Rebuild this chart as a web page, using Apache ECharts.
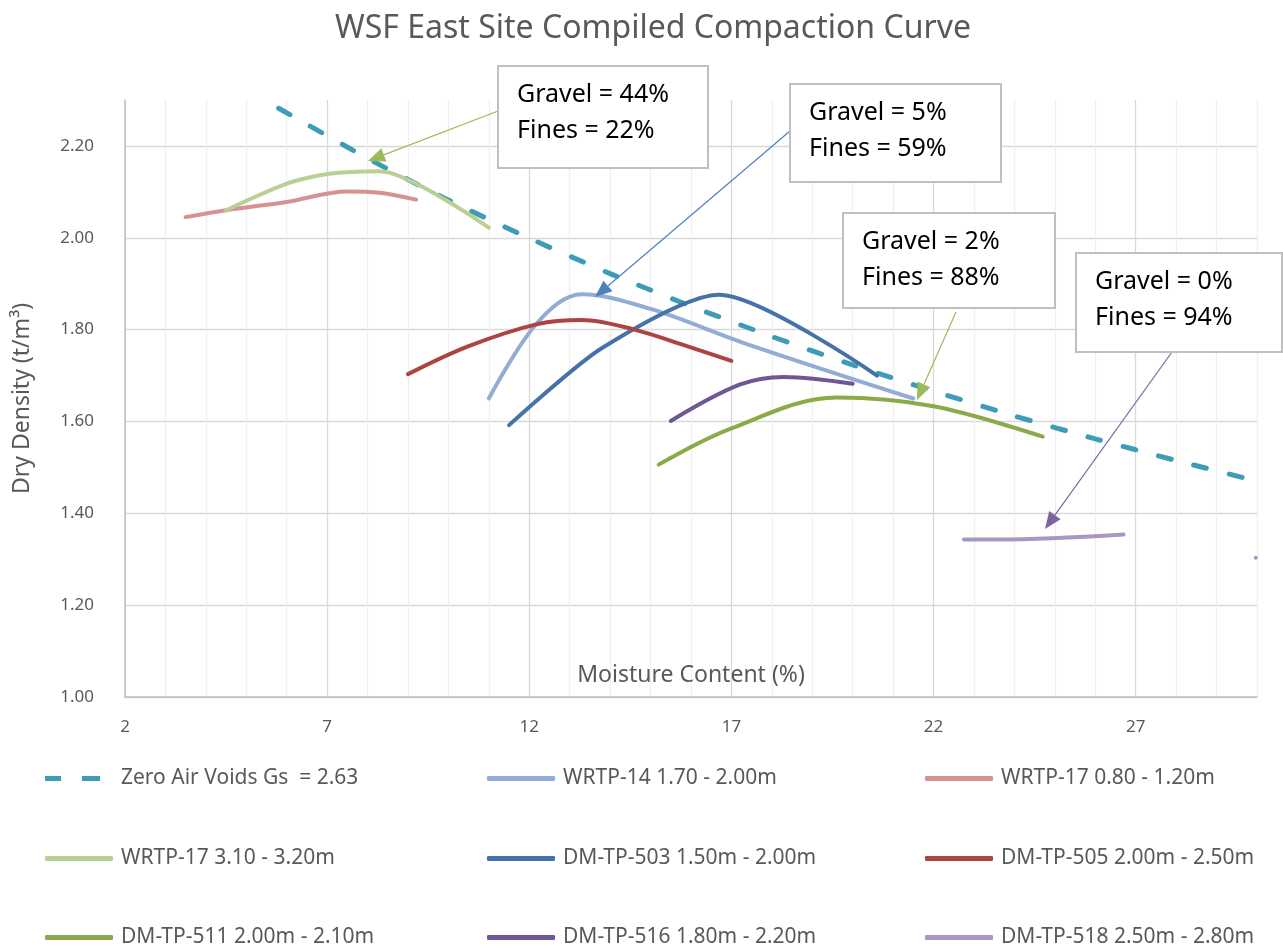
<!DOCTYPE html>
<html><head><meta charset="utf-8">
<script src="https://cdn.jsdelivr.net/npm/echarts@6/dist/echarts.min.js"></script>
<style>html,body{margin:0;padding:0;background:#fff}#c{width:1283px;height:947px}</style>
</head><body><div id="c"></div>
<script>
// ---------- data ----------
const chartTitle = 'WSF East Site Compiled Compaction Curve';
const xAxisName = 'Moisture Content (%)';
const yAxisName = 'Dry Density (t/m³)';
const xTickLabels = [2, 7, 12, 17, 22, 27];
const yTickLabels = [1.0, 1.2, 1.4, 1.6, 1.8, 2.0, 2.2];

const zavName = 'Zero Air Voids Gs  = 2.63';
const zavMoisture = [5.8, 8, 10, 12, 14, 16, 18, 20, 22, 24, 26, 28, 30];
const zavDensity  = [2.282, 2.173, 2.082, 1.999, 1.922, 1.851, 1.785, 1.723, 1.666, 1.612, 1.562, 1.515, 1.470];

const wrtp14Name = 'WRTP-14 1.70 - 2.00m';
const wrtp14Moisture = [11.0, 12.2, 13.3, 15.0, 17.4, 21.5];
const wrtp14Density  = [1.650, 1.815, 1.877, 1.845, 1.768, 1.650];

const wrtp17aName = 'WRTP-17 0.80 - 1.20m';
const wrtp17aMoisture = [3.5, 4.5, 6.0, 7.5, 8.3, 9.2];
const wrtp17aDensity  = [2.045, 2.060, 2.078, 2.101, 2.098, 2.083];

const wrtp17bName = 'WRTP-17 3.10 - 3.20m';
const wrtp17bMoisture = [4.5, 6.0, 7.0, 8.3, 11.0];
const wrtp17bDensity  = [2.060, 2.118, 2.139, 2.145, 2.022];

const dm503Name = 'DM-TP-503 1.50m - 2.00m';
const dm503Moisture = [11.5, 13.8, 16.7, 20.6];
const dm503Density  = [1.592, 1.760, 1.876, 1.700];

const dm505Name = 'DM-TP-505 2.00m - 2.50m';
const dm505Moisture = [9.0, 10.5, 12.2, 13.3, 14.6, 15.9, 17.0];
const dm505Density  = [1.703, 1.764, 1.812, 1.821, 1.800, 1.764, 1.732];

const dm511Name = 'DM-TP-511 2.00m - 2.10m';
const dm511Moisture = [15.2, 17.0, 19.6, 22.0, 24.7];
const dm511Density  = [1.506, 1.585, 1.652, 1.633, 1.567];

const dm516Name = 'DM-TP-516 1.80m - 2.20m';
const dm516Moisture = [15.5, 17.2, 18.3, 20.0];
const dm516Density  = [1.601, 1.680, 1.697, 1.682];

const dm518Name = 'DM-TP-518 2.50m - 2.80m';
const dm518Moisture = [22.75, 23.6, 26.7];
const dm518Density  = [1.343, 1.343, 1.354];
const dm518EdgeMoisture = [29.97];
const dm518EdgeDensity  = [1.303];

const notes = [
  ['Gravel = 44%', 'Fines = 22%'],
  ['Gravel = 5%', 'Fines = 59%'],
  ['Gravel = 2%', 'Fines = 88%'],
  ['Gravel = 0%', 'Fines = 94%']
];

// ---------- styling / layout ----------
const FONT = "'Noto Sans', 'Open Sans', sans-serif";
const GREY = '#595959';
const colors = {
  zav: '#3f9cb6', wrtp14: '#93acd5', wrtp17a: '#d69291', wrtp17b: '#b9cf94',
  dm503: '#4572a9', dm505: '#ac4441', dm511: '#8bab4a', dm516: '#6f5795', dm518: '#a797c2'
};
const pairs = (xs, ys) => xs.map((x, i) => [x, ys[i]]);

function lineSeries(name, data, color, smooth, extra) {
  return Object.assign({
    name, type: 'line', data, smooth, symbol: 'none',
    lineStyle: { color, width: 4, cap: 'round', join: 'round' },
    itemStyle: { color },
    emphasis: { disabled: true }, z: 3
  }, extra || {});
}

const dm518Data = pairs(dm518Moisture, dm518Density);
dm518Data.push(null);
dm518EdgeMoisture.forEach((x, i) => dm518Data.push({ value: [x, dm518EdgeDensity[i]], symbol: 'circle', symbolSize: 4 }));

const series = [
  lineSeries(zavName, pairs(zavMoisture, zavDensity), colors.zav, 0.2,
    { lineStyle: { color: colors.zav, width: 5, type: [13, 23.5], cap: 'round' } }),
  lineSeries(wrtp14Name, pairs(wrtp14Moisture, wrtp14Density), colors.wrtp14, 0.35),
  lineSeries(wrtp17aName, pairs(wrtp17aMoisture, wrtp17aDensity), colors.wrtp17a, 0.35),
  lineSeries(wrtp17bName, pairs(wrtp17bMoisture, wrtp17bDensity), colors.wrtp17b, 0.25),
  lineSeries(dm503Name, pairs(dm503Moisture, dm503Density), colors.dm503, 0.25),
  lineSeries(dm505Name, pairs(dm505Moisture, dm505Density), colors.dm505, 0.35),
  lineSeries(dm511Name, pairs(dm511Moisture, dm511Density), colors.dm511, 0.35),
  lineSeries(dm516Name, pairs(dm516Moisture, dm516Density), colors.dm516, 0.35),
  lineSeries(dm518Name, dm518Data, colors.dm518, 0.35, { connectNulls: false })
];

// legend: 3 x 3 grid, one component per entry
const legendGrid = [
  [zavName, 45, 777], [wrtp14Name, 487, 777], [wrtp17aName, 925, 777],
  [wrtp17bName, 45, 857], [dm503Name, 487, 857], [dm505Name, 925, 857],
  [dm511Name, 45, 936], [dm516Name, 487, 936], [dm518Name, 925, 936]
];
const ICON_H = 5;
const legends = legendGrid.map(([name, left, cy]) => {
  const dashed = name === zavName;
  return {
    orient: 'horizontal', left, top: cy - 9,
    data: [{ name, icon: dashed ? 'path://M0,0h16v5h-16z M37,0h18v5h-18z' : 'roundRect' }],
    itemWidth: dashed ? 55 : 68, itemHeight: ICON_H, selectedMode: false, padding: 0,
    itemStyle: { borderWidth: 0 },
    textStyle: { color: GREY, fontSize: 21, fontFamily: FONT, padding: [0, 0, 0, dashed ? 16 : 3] }
  };
});

// annotation boxes (pixel layout)
const boxes = [
  { x: 498, y: 66, w: 210, h: 102 },
  { x: 790, y: 84, w: 211, h: 98 },
  { x: 843, y: 213, w: 212, h: 95 },
  { x: 1076, y: 253, w: 206, h: 99 }
];
const arrows = [
  { from: [498, 111], to: [368, 161], color: '#9bbb59' },
  { from: [790, 131], to: [595, 297], color: '#4f81bd' },
  { from: [956, 312], to: [917, 400], color: '#9bbb59' },
  { from: [1172, 352], to: [1045, 529], color: '#8064a2' }
];
const graphics = [];
boxes.forEach((b, i) => {
  graphics.push({ type: 'rect', shape: { x: b.x, y: b.y, width: b.w, height: b.h },
    style: { fill: '#fff', stroke: '#bfbfbf', lineWidth: 2 }, z: 100 });
  notes[i].forEach((t, j) => graphics.push({ type: 'text', x: b.x + 19, y: b.y + 29 + j * 36, z: 101,
    style: { text: t, fill: '#000', font: '25px ' + FONT, textVerticalAlign: 'middle', textAlign: 'left' } }));
});
arrows.forEach(a => {
  const [x1, y1] = a.from, [x2, y2] = a.to;
  const dx = x2 - x1, dy = y2 - y1, L = Math.hypot(dx, dy);
  const ux = dx / L, uy = dy / L, len = 17, hw = 7;
  const bx = x2 - ux * len, by = y2 - uy * len;
  graphics.push({ type: 'line', shape: { x1, y1, x2: bx, y2: by }, style: { stroke: a.color, lineWidth: 1.2 }, z: 90 });
  graphics.push({ type: 'polygon', shape: { points: [[x2, y2], [bx - uy * hw, by + ux * hw], [bx + uy * hw, by - ux * hw]] },
    style: { fill: a.color }, z: 90 });
});

const chart = echarts.init(document.getElementById('c'), null, { renderer: 'canvas' });
chart.setOption({
  animation: false,
  backgroundColor: '#fff',
  title: { text: chartTitle, left: 330, top: 8,
    textStyle: { fontSize: 32, fontWeight: 'normal', color: GREY, fontFamily: FONT } },
  grid: { left: 125, right: 26, top: 100, bottom: 250, containLabel: false },
  xAxis: {
    type: 'value', min: 2, max: 30, interval: 1,
    name: xAxisName, nameLocation: 'middle', nameGap: -22,
    nameTextStyle: { fontSize: 23, color: GREY, fontFamily: FONT, verticalAlign: 'middle' },
    axisLine: { show: true, lineStyle: { color: '#bfbfbf', width: 1.5 } },
    axisTick: { show: false },
    axisLabel: { color: GREY, fontSize: 17, fontFamily: FONT, margin: 22,
      formatter: v => (xTickLabels.indexOf(Math.round(v)) >= 0 && Math.abs(v - Math.round(v)) < 1e-6) ? String(Math.round(v)) : '' },
    splitLine: { show: true, lineStyle: { color: ['#d9d9d9', '#efefef', '#efefef', '#efefef', '#efefef'], width: 1.3 } }
  },
  yAxis: {
    type: 'value', min: 1, max: 2.3, interval: 0.2,
    name: yAxisName, nameLocation: 'middle', nameGap: 103, nameRotate: 90,
    nameTextStyle: { fontSize: 23, color: GREY, fontFamily: FONT, verticalAlign: 'middle' },
    axisLine: { show: true, lineStyle: { color: '#bfbfbf', width: 1.5 } },
    axisTick: { show: false },
    axisLabel: { color: GREY, fontSize: 17, fontFamily: FONT, margin: 31, showMaxLabel: false,
      formatter: v => { const r = Math.round(v * 10) / 10; return yTickLabels.some(t => Math.abs(t - r) < 1e-6) && Math.abs(v - r) < 1e-6 ? v.toFixed(2) : ''; } },
    splitLine: { show: true, showMaxLine: false, lineStyle: { color: '#d9d9d9', width: 1.3 } }
  },
  legend: legends,
  series,
  graphic: graphics
});
</script></body></html>
